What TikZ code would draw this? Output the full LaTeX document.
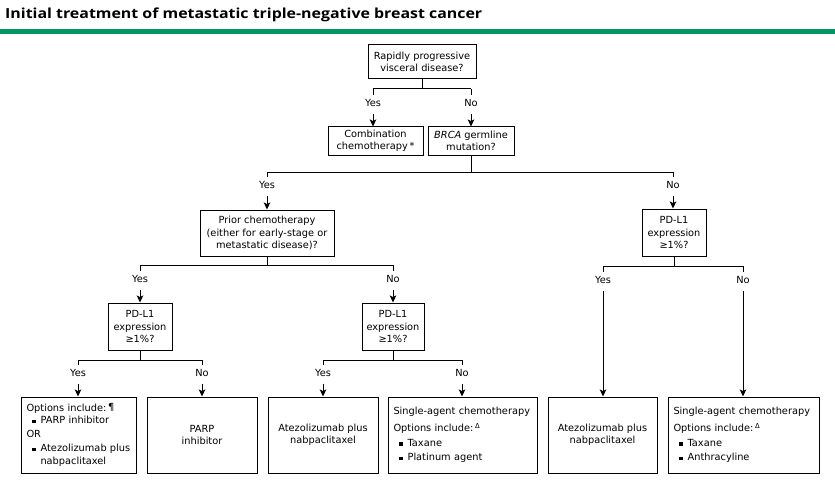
\documentclass[tikz,border=0pt]{standalone}
\usepackage{fontspec}
\usepackage{graphicx}
\setmainfont{DejaVu Sans}
\newfontfamily\titlefont{Open Sans}
\usetikzlibrary{arrows.meta}
\definecolor{rulegreen}{RGB}{0,150,100}
\newcommand\bul{\hspace*{5.5pt}\rule[0.6pt]{3.6pt}{3.6pt}\hspace*{5pt}}
\tikzset{
  fbox/.style={draw, line width=1pt, inner sep=2pt, align=center,
    font=\fontsize{9.8}{12.5}\selectfont},
  lbox/.style={draw, line width=1pt, inner xsep=5.5pt, inner ysep=2pt, align=left,
    font=\fontsize{9.8}{12.5}\selectfont},
  lbl/.style={inner sep=0pt, font=\fontsize{9.8}{12}\selectfont},
  ln/.style={line width=1pt},
  arr/.style={ln, -{Stealth[length=7pt,width=6.5pt,inset=1.5pt]}},
}
\begin{document}
\begin{tikzpicture}[x=1pt,y=-1pt]
\useasboundingbox (0,0) rectangle (835,484);
\fill[white] (0,0) rectangle (835,484);
\node[anchor=base west, inner sep=0pt] (title) at (5,19)
  {\resizebox{477pt}{10.6pt}{\titlefont\bfseries Initial treatment of metastatic triple-negative breast cancer}};
\fill[rulegreen] (0,29.5) rectangle (835,34.5);

% question boxes
\node[fbox, minimum width=108, minimum height=34] (q1) at (422,62) {Rapidly progressive\\visceral disease?};
\node[fbox, minimum width=95, minimum height=28] (comb) at (375.5,141) {Combination\\chemotherapy\,*};
\node[fbox, minimum width=86, minimum height=28] (brca) at (471,141) {\textit{BRCA} germline\\mutation?};
\node[fbox, minimum width=134, minimum height=46] (prior) at (267,233) {Prior chemotherapy\\(either for early-stage or\\metastatic disease)?};
\node[fbox, minimum width=64, minimum height=47] (pda) at (140,326.5) {PD-L1\\expression\\≥1\%?};
\node[fbox, minimum width=62, minimum height=47] (pdb) at (393,326.5) {PD-L1\\expression\\≥1\%?};
\node[fbox, minimum width=64, minimum height=47] (pdc) at (674,232.5) {PD-L1\\expression\\≥1\%?};

% result boxes
\node[lbox, text width=104, minimum height=76] (r1) at (78.5,435)
  {Options include:\,{\raisebox{0.5pt}{¶}}\\
   \bul PARP inhibitor\\[1pt]
   OR\\[2pt]
   \bul Atezolizumab plus\\
   \hspace*{14pt}nabpaclitaxel};
\node[fbox, minimum width=110, minimum height=76] (r2) at (202,435) {PARP\\inhibitor};
\node[fbox, minimum width=110, minimum height=76] (r3) at (323,435) {Atezolizumab plus\\nabpaclitaxel};
\node[lbox, text width=138, minimum height=76] (r4) at (462.5,435)
  {Single-agent chemotherapy\\[5pt]
   Options include:\,\textsuperscript{Δ}\\[2pt]
   \bul Taxane\\[2pt]
   \bul Platinum agent};
\node[fbox, minimum width=109, minimum height=76] (r5) at (602.5,435) {Atezolizumab plus\\nabpaclitaxel};
\node[lbox, text width=140, minimum height=76] (r6) at (743.5,435)
  {Single-agent chemotherapy\\[5pt]
   Options include:\,\textsuperscript{Δ}\\[2pt]
   \bul Taxane\\[2pt]
   \bul Anthracyline};

% fork 1
\node[lbl] (y1) at (373,103) {Yes};
\node[lbl] (n1) at (471,103) {No};
\draw[ln] (q1.south) -- (q1.south |- 0,89);
\draw[ln] (y1.north |- 0,89) -- (n1.north |- 0,89);
\draw[ln] (y1.north |- 0,89) -- ([yshift=4pt]y1.north);
\draw[ln] (n1.north |- 0,89) -- ([yshift=4pt]n1.north);
\draw[arr] ([yshift=-7pt]y1.south) -- (y1.south |- comb.north);
\draw[arr] ([yshift=-7pt]n1.south) -- (n1.south |- brca.north);

% fork 2
\node[lbl] (y2) at (267,185) {Yes};
\node[lbl] (n2) at (673,185) {No};
\draw[ln] (brca.south) -- (brca.south |- 0,172);
\draw[ln] (y2.north |- 0,172) -- (n2.north |- 0,172);
\draw[ln] (y2.north |- 0,172) -- ([yshift=4pt]y2.north);
\draw[ln] (n2.north |- 0,172) -- ([yshift=4pt]n2.north);
\draw[arr] ([yshift=-7pt]y2.south) -- (y2.south |- prior.north);
\draw[arr] ([yshift=-7pt]n2.south) -- (n2.south |- pdc.north);

% fork 3
\node[lbl] (y3) at (140,279) {Yes};
\node[lbl] (n3) at (393,279) {No};
\draw[ln] (prior.south) -- (prior.south |- 0,265);
\draw[ln] (y3.north |- 0,265) -- (n3.north |- 0,265);
\draw[ln] (y3.north |- 0,265) -- ([yshift=4pt]y3.north);
\draw[ln] (n3.north |- 0,265) -- ([yshift=4pt]n3.north);
\draw[arr] ([yshift=-7pt]y3.south) -- (y3.south |- pda.north);
\draw[arr] ([yshift=-7pt]n3.south) -- (n3.south |- pdb.north);

% fork right
\node[lbl] (y5) at (603,280) {Yes};
\node[lbl] (n5) at (743,280) {No};
\draw[ln] (pdc.south) -- (pdc.south |- 0,266);
\draw[ln] (y5.north |- 0,266) -- (n5.north |- 0,266);
\draw[ln] (y5.north |- 0,266) -- ([yshift=4pt]y5.north);
\draw[ln] (n5.north |- 0,266) -- ([yshift=4pt]n5.north);
\draw[arr] ([yshift=-7pt]y5.south) -- (y5.south |- r5.north);
\draw[arr] ([yshift=-7pt]n5.south) -- (n5.south |- r6.north);

% fork 4a
\node[lbl] (y4) at (78,373) {Yes};
\node[lbl] (n4) at (202,373) {No};
\draw[ln] (pda.south) -- (pda.south |- 0,360);
\draw[ln] (y4.north |- 0,360) -- (n4.north |- 0,360);
\draw[ln] (y4.north |- 0,360) -- ([yshift=4pt]y4.north);
\draw[ln] (n4.north |- 0,360) -- ([yshift=4pt]n4.north);
\draw[arr] ([yshift=-7pt]y4.south) -- (y4.south |- r1.north);
\draw[arr] ([yshift=-7pt]n4.south) -- (n4.south |- r2.north);

% fork 4b
\node[lbl] (y6) at (323,373) {Yes};
\node[lbl] (n6) at (462,373) {No};
\draw[ln] (pdb.south) -- (pdb.south |- 0,360);
\draw[ln] (y6.north |- 0,360) -- (n6.north |- 0,360);
\draw[ln] (y6.north |- 0,360) -- ([yshift=4pt]y6.north);
\draw[ln] (n6.north |- 0,360) -- ([yshift=4pt]n6.north);
\draw[arr] ([yshift=-7pt]y6.south) -- (y6.south |- r3.north);
\draw[arr] ([yshift=-7pt]n6.south) -- (n6.south |- r4.north);
\end{tikzpicture}
\end{document}
